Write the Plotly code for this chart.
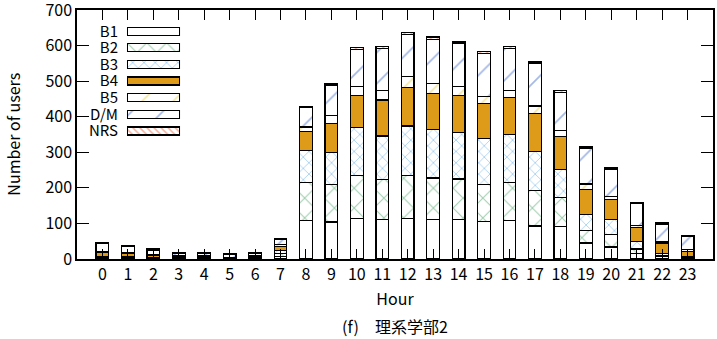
import plotly.graph_objects as go

hours = list(range(24))
series_names = ["B1", "B2", "B3", "B4", "B5", "D/M", "NRS"]
B1 = [3, 2, 2, 2, 2, 1, 2, 8, 108, 104, 114, 111, 114, 111, 111, 105, 108, 93, 92, 45, 34, 15, 6, 4]
B2 = [2, 2, 2, 1, 1, 1, 1, 8, 108, 105, 121, 112, 120, 117, 114, 105, 108, 99, 82, 35, 34, 13, 3, 1]
B3 = [2, 2, 1, 1, 1, 1, 1, 9, 89, 90, 135, 123, 140, 135, 131, 129, 134, 110, 77, 45, 43, 22, 7, 3]
B4 = [11, 10, 4, 3, 4, 1, 3, 10, 53, 81, 90, 101, 109, 102, 104, 98, 103, 108, 94, 70, 56, 39, 29, 14]
B5 = [3, 3, 3, 2, 2, 1, 2, 5, 13, 24, 26, 27, 31, 28, 26, 20, 20, 20, 16, 16, 9, 6, 3, 5]
DM = [22, 16, 13, 8, 7, 7, 8, 14, 55, 83, 104, 117, 118, 124, 121, 121, 119, 121, 107, 101, 76, 61, 49, 36]
NRS = [4, 3, 3, 2, 2, 2, 2, 3, 3, 5, 5, 6, 5, 7, 4, 5, 5, 4, 5, 4, 4, 3, 4, 3]
values = [B1, B2, B3, B4, B5, DM, NRS]

y_ticks = [0, 100, 200, 300, 400, 500, 600, 700]

FONT = "Noto Sans CJK JP"
FS = 16

styles = [
    dict(color="white", pattern=None),
    dict(color="white", pattern=dict(shape="x", fgcolor="#3f9a5c", bgcolor="white", size=14, solidity=0.14, fillmode="overlay")),
    dict(color="white", pattern=dict(shape="x", fgcolor="#5aa8e6", bgcolor="white", size=8, solidity=0.22, fillmode="overlay")),
    dict(color="#DE9B19", pattern=None),
    dict(color="white", pattern=dict(shape="/", fgcolor="#e8d24a", bgcolor="white", size=22, solidity=0.08, fillmode="overlay")),
    dict(color="white", pattern=dict(shape="/", fgcolor="#4a72cc", bgcolor="white", size=22, solidity=0.08, fillmode="overlay")),
    dict(color="white", pattern=dict(shape="\\", fgcolor="#e8643a", bgcolor="white", size=5, solidity=0.3, fillmode="overlay")),
]

fig = go.Figure()
for name, vals, st in zip(series_names, values, styles):
    marker = dict(color=st["color"], line=dict(color="black", width=1.2))
    if st["pattern"]:
        marker["pattern"] = st["pattern"]
    fig.add_trace(go.Bar(x=hours, y=vals, name=name, marker=marker, width=0.5,
                         showlegend=False, xaxis="x", yaxis="y"))

# legend drawn as bars on an auxiliary axis pair
for i, (name, st) in enumerate(zip(series_names, styles)):
    marker = dict(color=st["color"], line=dict(color="black", width=1.2))
    if st["pattern"]:
        marker["pattern"] = st["pattern"]
    fig.add_trace(go.Bar(x=[1], y=[i], base=0, orientation="h", marker=marker, width=0.48,
                         showlegend=False, xaxis="x2", yaxis="y2", hoverinfo="skip"))

fig.update_layout(
    width=717, height=339,
    margin=dict(l=77, r=4, t=10, b=80),
    barmode="stack",
    plot_bgcolor="white", paper_bgcolor="white",
    font=dict(family=FONT, size=FS, color="black"),
    xaxis=dict(range=[-1, 24], tickmode="array", tickvals=hours, ticktext=[str(h) for h in hours],
               ticks="inside", ticklen=10, tickcolor="black", tickwidth=1,
               showline=True, linecolor="black", linewidth=1.5, mirror="allticks",
               showgrid=False, zeroline=False, tickfont=dict(size=FS), automargin=False,
               title=dict(text="Hour", standoff=10, font=dict(size=FS))),
    yaxis=dict(range=[0, 700], tickmode="array", tickvals=y_ticks,
               ticktext=[str(v) for v in y_ticks], ticklabeloverflow="allow",
               ticks="inside", ticklen=12, tickcolor="black", tickwidth=1,
               showline=True, linecolor="black", linewidth=1.5, mirror="allticks",
               showgrid=False, zeroline=False, tickfont=dict(size=FS), automargin=False),
    xaxis2=dict(domain=[0.0786, 0.162], range=[0, 1], anchor="y2", visible=False,
                fixedrange=True, automargin=False),
    yaxis2=dict(domain=[0.481, 0.948], range=[6.5, -0.5], anchor="x2",
                tickmode="array", tickvals=list(range(7)), ticktext=series_names,
                showline=False, showgrid=False, zeroline=False, ticks="",
                ticklabelstandoff=8, fixedrange=True, tickfont=dict(size=15), automargin=False),
    annotations=[
        dict(text="Number of users", textangle=-90, xref="paper", yref="paper",
             x=-0.102, y=0.5, xanchor="center", yanchor="middle", showarrow=False,
             font=dict(family=FONT, size=FS)),
        dict(text="(f)\u3000理系学部2", xref="paper", yref="paper",
             x=0.5, y=-0.27, xanchor="center", yanchor="middle", showarrow=False,
             font=dict(family=FONT, size=FS)),
    ],
)

fig.write_html("out.html")
